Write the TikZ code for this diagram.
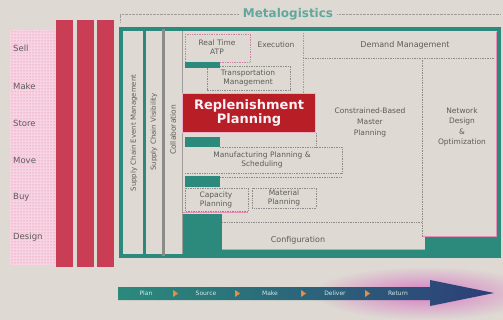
\documentclass[tikz,border=0pt]{standalone}
\usepackage{xcolor}
\usepackage{fontspec}
\setmainfont{DejaVu Sans}
\usepackage{tikz}
\usetikzlibrary{patterns}

\definecolor{paper}{HTML}{DEDAD3}
\definecolor{sctteal}{HTML}{2B8A7C}
\definecolor{barred}{HTML}{C93D55}
\definecolor{boxred}{HTML}{B81E26}
\definecolor{inkgray}{HTML}{5E5B58}
\definecolor{dotpink}{HTML}{E88DB5}
\definecolor{navy}{HTML}{2C3E78}
\definecolor{haze}{HTML}{D77CC3}
\definecolor{marker}{HTML}{F08A3C}

\begin{document}
\begin{tikzpicture}[x=1pt,y=-1pt]
        \tikzstyle{lbl} = [font=\fontsize{7.5}{9}\selectfont, text=inkgray, align=center, inner sep=1pt]
        \tikzstyle{vlbl} = [lbl, rotate=90]
        \tikzstyle{dotbox} = [draw=inkgray!70, densely dotted, line width=0.7pt]
        \tikzstyle{tealblk} = [fill=sctteal]
        \tikzstyle{flow} = [font=\fontsize{6}{7}\selectfont, text=white!80!sctteal, inner sep=0pt]

        \fill[paper] (0,0) rectangle (503,320);
        \useasboundingbox (0,0) rectangle (503,320);

        \fill[white!62!dotpink] (10,30) rectangle (55,265);
        \fill[pattern=dots, pattern color=dotpink!80!red] (10,30) rectangle (55,265);
        \foreach \y/\name/\txt in {48/sell/Sell, 86/make/Make, 123/store/Store, 160/move/Move, 197/buy/Buy, 237/design/Design}
            \node[lbl, font=\fontsize{8.5}{10}\selectfont, anchor=west] (\name) at (12,\y) {\txt};

        \foreach \x in {56,77,97}
            \fill[barred] (\x,20) rectangle ++(17,247);

        \draw[inkgray!60, densely dotted] (120,22) -- (120,14) -- (500,14);
        \node[font=\bfseries\fontsize{12}{13}\selectfont, text=sctteal!75, fill=paper, inner xsep=4pt] (title) at (288,14) {Metalogistics};

        \draw[sctteal, line width=3.5pt] (121,29) rectangle (499,256);
        \draw[dotpink, line width=0.8pt] (496.5,32) -- (496.5,254);
        \fill[sctteal] (143,29) rectangle (146,256);
        \fill[inkgray!70] (162,29) rectangle (164.5,256);
        \draw[inkgray!60, line width=0.8pt] (182,31) -- (182,254);

        \node[vlbl, font=\fontsize{7}{8}\selectfont] (sce) at (134,133) {Supply Chain Event Management};
        \node[vlbl, font=\fontsize{7}{8}\selectfont] (vis) at (154,132) {Supply Chain Visibility};
        \node[vlbl] (col) at (173,130) {Collaboration};

        \draw[dotbox, draw=dotpink!80!inkgray] (185,34) rectangle (250,62);
        \node[lbl] (atp) at (217,47) {Real Time\\ATP};
        \node[lbl] (exe) at (276,45) {Execution};
        \fill[tealblk] (185,62) rectangle (220,68);
        \draw[dotbox] (220,66) -- (290,66) -- (290,90) -- (207,90) -- (207,68);
        \node[lbl] (tms) at (248,78) {Transportation\\Management};

        \draw[dotbox, draw=haze] (303,33) -- (303,93);
        \node[lbl, font=\fontsize{8}{9}\selectfont] (dem) at (405,45) {Demand Management};
        \draw[dotbox] (303,58) -- (495,58);
        \draw[dotbox] (422,58) -- (422,237);
        \draw[dotbox] (316,133) -- (316,147);

        \fill[boxred] (182,93) rectangle (316,133);
        \draw[dotpink!70, line width=0.8pt] (182.5,93.5) rectangle (315.5,132.5);
        \node[font=\bfseries\fontsize{13}{14.5}\selectfont, text=white!88!dotpink, align=center] (repl) at (249,113) {Replenishment\\Planning};

        \node[lbl, font=\fontsize{7.5}{11}\selectfont] (cbmp) at (370,122) {Constrained-Based\\Master\\Planning};
        \node[lbl, font=\fontsize{7.5}{10.5}\selectfont] (ndo) at (462,127) {Network\\Design\\\&\\Optimization};

        \fill[tealblk] (185,137) rectangle (220,147);
        \draw[dotbox] (220,147) -- (342,147) -- (342,173) -- (185,173);
        \node[lbl] (mps) at (262,160) {Manufacturing Planning \&\\Scheduling};

        \fill[tealblk] (185,176) rectangle (220,187);
        \draw[dotbox] (220,177) -- (342,177);
        \draw[dotbox] (185,188) rectangle (248,211);
        \draw[dotbox] (252,188) rectangle (316,208);
        \draw[dotpink, line width=0.8pt] (183,212) -- (248,212);
        \node[lbl] (cap) at (216,200) {Capacity\\Planning};
        \node[lbl] (mat) at (284,198) {Material\\Planning};

        \fill[tealblk] (183,214) rectangle (222,256);
        \draw[dotbox] (222,222) -- (422,222);
        \node[lbl, font=\fontsize{8}{9}\selectfont] (cfg) at (298,240) {Configuration};
        \draw[dotpink, line width=0.8pt] (222,249) -- (425,249);
        \fill[sctteal] (222,250) rectangle (499,256);
        \fill[sctteal] (425,237) rectangle (499,256);
        \draw[dotpink, line width=0.8pt] (423,236) -- (496,236);

        \shade[inner color=haze, outer color=paper] (425,293) ellipse (115 and 27);
        \shade[left color=sctteal, middle color=sctteal!75!navy, right color=navy]
            (118,287) -- (430,287) -- (430,280) -- (494,293) -- (430,306) -- (430,300) -- (118,300) -- cycle;
        \foreach \x in {175,237,303,367}
            \fill[marker] (\x-2,290) -- (\x+3,293.5) -- (\x-2,297) -- cycle;
        \foreach \x/\name/\txt in {146/plan/Plan, 206/src/Source, 270/mk/Make, 335/dlv/Deliver, 398/ret/Return}
            \node[flow] (\name) at (\x,293.5) {\txt};
    \end{tikzpicture}
\end{document}
